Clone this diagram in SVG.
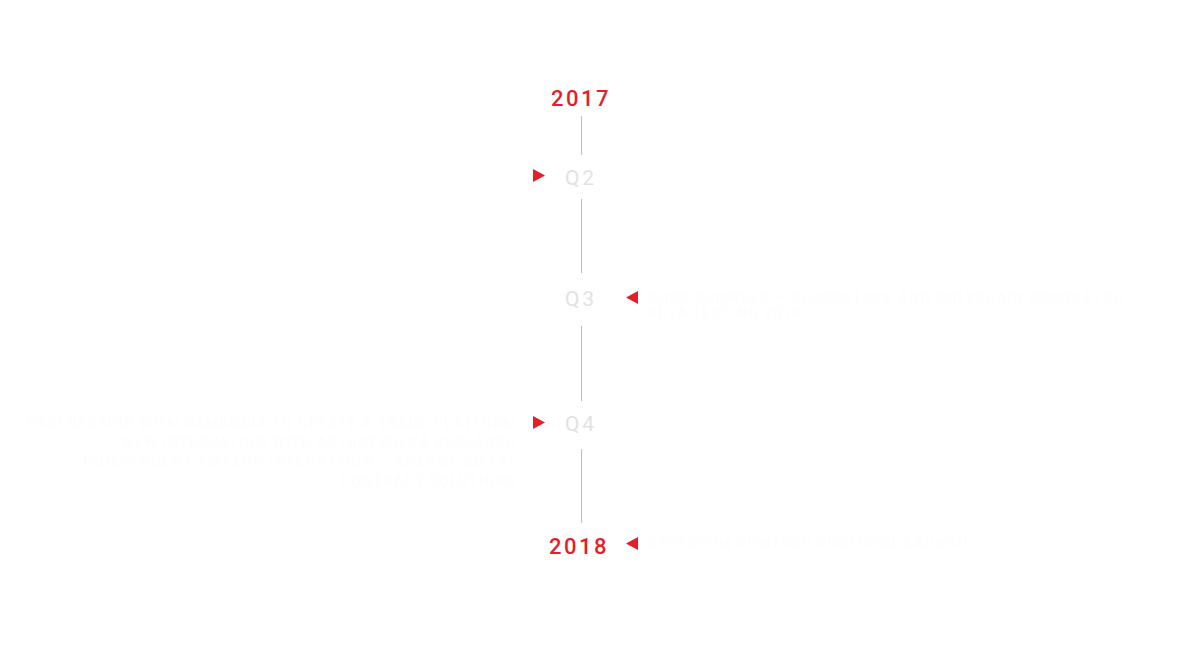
<svg xmlns="http://www.w3.org/2000/svg" width="1199" height="656" viewBox="0 0 1199 656">
<style>
.year{font-family:Roboto,"Liberation Sans",sans-serif;font-size:22px;font-weight:500;fill:#e51f2a;letter-spacing:2.5px;text-anchor:middle}
.q{font-family:Roboto,"Liberation Sans",sans-serif;font-size:21px;fill:#e2e2e2;letter-spacing:3px;text-anchor:middle}
.tri{fill:#e51f2a}
.line{stroke:#bdbdbd;stroke-width:1}
.faint{font-family:Roboto,"Liberation Sans",sans-serif;font-size:14px;fill:#fdfdfd;letter-spacing:1.5px}
</style>
<rect width="1199" height="656" fill="#ffffff"/>
<g id="connectors">
<line class="line" x1="581.5" y1="116" x2="581.5" y2="155"/>
<line class="line" x1="581.5" y1="199" x2="581.5" y2="273"/>
<line class="line" x1="581.5" y1="326" x2="581.5" y2="401"/>
<line class="line" x1="581.5" y1="449" x2="581.5" y2="523"/>
</g>
<g id="y2017">
<text class="year" x="581" y="106">2017</text>
</g>
<g id="q2">
<polygon class="tri" points="533,169 545,175.5 533,182"/>
<text class="q" x="581" y="185">Q2</text>
</g>
<g id="q3">
<text class="q" x="581" y="306">Q3</text>
<polygon class="tri" points="638,291 626,297.5 638,304"/>
<text class="faint" x="648" y="303">DOCS BROWSER — BLOCKSTACK AND POLYCHAIN COMPLETED</text>
<text class="faint" x="648" y="318">BETA TESTING 2018.</text>
</g>
<g id="q4">
<polygon class="tri" points="533,416 545,422.5 533,429"/>
<text class="q" x="581" y="431">Q4</text>
<g text-anchor="end">
<text class="faint" x="517" y="428">PARTNERSHIP WITH CAMBODIA TO CREATE A TRADE PLATFORM</text>
<text class="faint" x="517" y="447">NEW INTEGRATION WITH ASTRAZENECA RESEARCH</text>
<text class="faint" x="517" y="466">INDEPENDENT AMAZON INTEGRATION — ENERGY SMART</text>
<text class="faint" x="517" y="486">CONTRACT SOLUTIONS</text>
</g>
</g>
<g id="y2018">
<text class="year" x="579" y="554">2018</text>
<polygon class="tri" points="638,537 626,543.5 638,550"/>
<text class="faint" x="648" y="548">ETHEREUM POWERED PROTOCOL LAUNCH</text>
</g>
</svg>
